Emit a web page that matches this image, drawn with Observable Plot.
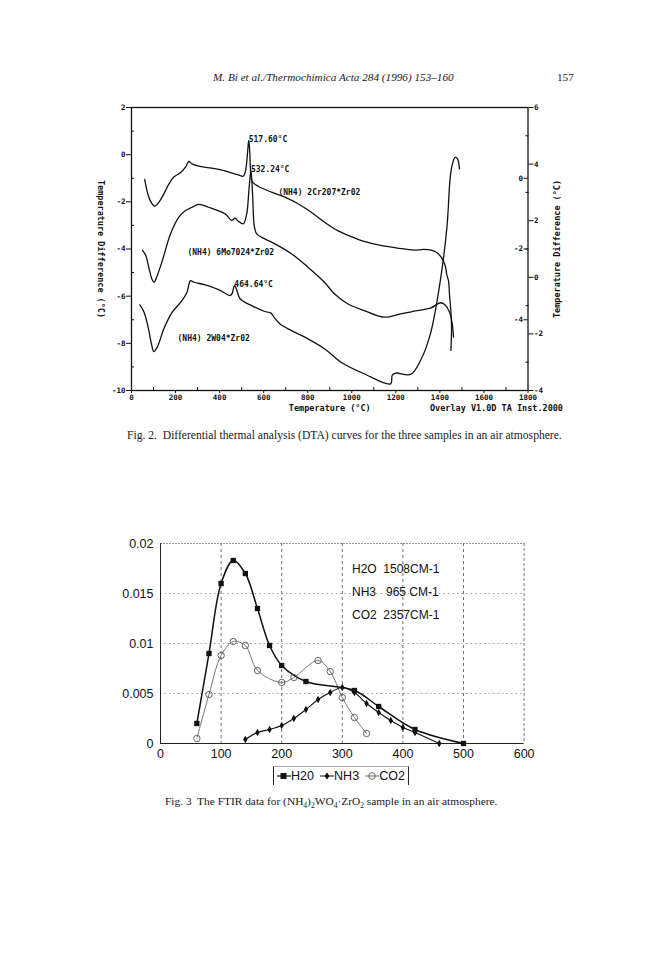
<!DOCTYPE html>
<html><head><meta charset="utf-8">
<script src="https://cdn.jsdelivr.net/npm/d3@7"></script>
<script src="https://cdn.jsdelivr.net/npm/@observablehq/plot@0.6"></script>
<style>
body{margin:0;background:#fff;}
#page{position:relative;width:672px;height:960px;background:#fff;overflow:hidden;}
.serif{position:absolute;font-family:"Liberation Serif","DejaVu Serif",serif;color:#1a1a1a;white-space:nowrap;}
svg{overflow:visible;}
#legend{position:absolute;display:flex;align-items:center;justify-content:space-around;font-family:"Liberation Sans",Arial,sans-serif;font-size:12.5px;color:#111;border-left:1px solid #222;border-right:1px solid #222;border-top:1px solid #aaa;box-sizing:border-box;}
#legend span{display:flex;align-items:center;}
</style></head><body><div id="page">
<div class="serif" style="left:213px;top:71px;font-size:11.2px;font-style:italic;">M. Bi et al./Thermochimica Acta 284 (1996) 153–160</div>
<div class="serif" style="left:557px;top:71px;font-size:11.2px;">157</div>
<div class="serif" style="left:127px;top:429px;font-size:11.6px;">Fig. 2.&nbsp; Differential thermal analysis (DTA) curves for the three samples in an air atmosphere.</div>
<div class="serif" style="left:165px;top:795px;font-size:11.4px;">Fig. 3&nbsp; The FTIR data for (NH<sub style="font-size:7.5px">4</sub>)<sub style="font-size:7.5px">2</sub>WO<sub style="font-size:7.5px">4</sub>·ZrO<sub style="font-size:7.5px">2</sub> sample in an air atmosphere.</div>
<div id="legend"></div>
</div>
<script>
// ---------- Fig. 2 DTA data (temperature °C, left-axis units) ----------
const crT = [60,72,87,105,125,147,170,192,222,245,260,275,305,365,425,485,508,518,527,532,536,541,548,575,636,696,756,816,876,936,996,1056,1131,1206,1282,1327,1364,1387,1409,1424,1432,1439,1444,1450,1453,1450];
const crV = [-1.05,-1.59,-1.99,-2.18,-2.01,-1.66,-1.24,-0.95,-0.77,-0.53,-0.29,-0.39,-0.49,-0.57,-0.69,-0.86,-0.91,-0.67,0.11,0.60,0.25,-0.74,-1.14,-1.34,-1.59,-1.80,-2.08,-2.44,-2.86,-3.22,-3.47,-3.68,-3.85,-3.96,-4.05,-4.02,-4.06,-4.16,-4.39,-4.70,-5.12,-5.34,-5.97,-6.68,-7.39,-8.30];
const moT = [50,65,80,92,102,117,140,177,215,245,275,305,350,425,455,470,485,508,523,533,542,550,557,568,605,651,726,801,876,921,981,1056,1146,1222,1297,1357,1402,1424,1444,1456,1462];
const moV = [-4.06,-4.28,-4.84,-5.26,-5.41,-5.12,-4.49,-3.36,-2.65,-2.37,-2.23,-2.11,-2.23,-2.51,-2.79,-2.69,-2.82,-2.93,-2.51,-1.52,-0.67,-1.73,-3.00,-3.36,-3.57,-3.78,-4.20,-4.77,-5.41,-5.90,-6.32,-6.61,-6.89,-6.75,-6.61,-6.51,-6.28,-6.37,-6.68,-7.17,-7.74];
const wT = [38,57,77,92,101,117,147,185,230,252,268,283,335,395,448,458,467,475,493,545,605,632,650,673,726,801,876,951,1056,1176,1184,1199,1267,1312,1357,1402,1432,1447,1457,1469,1480,1489];
const wV = [-6.37,-6.68,-7.38,-8.09,-8.35,-8.16,-7.38,-6.68,-6.18,-5.83,-5.34,-5.41,-5.52,-5.72,-5.97,-5.86,-5.55,-5.66,-6.11,-6.40,-6.65,-6.71,-6.93,-7.17,-7.46,-7.81,-8.23,-8.80,-9.29,-9.72,-9.34,-9.26,-9.32,-8.73,-7.60,-5.34,-3.07,-0.95,-0.39,-0.11,-0.18,-0.60];
const curveNames = ["(NH4) 2Cr207*Zr02","(NH4) 6Mo7024*Zr02","(NH4) 2W04*Zr02"];
const curveLabelT = [667,254,209];
const curveLabelV = [-1.60,-4.15,-7.80];
const peakLabels = ["517.60°C","532.24°C","464.64°C"];
const xTicks2 = [0,200,400,600,800,1000,1200,1400,1600,1800];
const xMinor2 = [100,300,500,700,900,1100,1300,1500,1700];
const leftTicks = [-10,-8,-6,-4,-2,0,2];
const leftMinor = [-9,-7,-5,-3,-1,1];
const rightOuterTicks = [-4,-2,0,2,4,6];
const rightOuterMinor = [-3,-1,1,3,5];
const rightInnerTicks = [-4,-2,0];

// ---------- Fig. 3 FTIR data ----------
const h2oT = [60,80,100,120,140,160,180,200,240,320,360,420,500];
const h2oV = [0.0020,0.0090,0.0160,0.0183,0.0170,0.0135,0.0098,0.0078,0.0062,0.0053,0.0037,0.0014,0];
const nh3T = [140,160,180,200,220,240,260,280,300,320,340,360,380,400,420,460];
const nh3V = [0.0004,0.0011,0.0014,0.0018,0.0025,0.0034,0.0044,0.0051,0.0056,0.0051,0.0040,0.0031,0.0023,0.0016,0.0011,0];
const co2T = [60,80,100,120,140,160,200,220,260,280,300,320,340];
const co2V = [0.0005,0.0049,0.0088,0.0102,0.0098,0.0073,0.0061,0.0066,0.0083,0.0072,0.0046,0.0026,0.0010];
const xTicks3 = [0,100,200,300,400,500,600];
const yTicks3 = [0,0.005,0.01,0.015,0.02];
const noteLines = ["H2O\u00a0\u00a01508CM-1","NH3\u00a0\u00a0\u00a0965 CM-1","CO2\u00a0\u00a02357CM-1"];
const noteT = [316,316,316];
const noteV = [0.0174,0.0151,0.0128];
const legendNames = ["H20","NH3","CO2"];

const page = document.getElementById("page");
function place(el, left, top){ el.style.position="absolute"; el.style.left=left+"px"; el.style.top=top+"px"; page.appendChild(el); }

const mono = "'DejaVu Sans Mono','Liberation Mono',monospace";
const series2 = [{T:crT,V:crV},{T:moT,V:moV},{T:wT,V:wV}];
const dta = series2.flatMap((s,k)=>s.T.map((t,i)=>({k, t, v:s.V[i]})));
const peaks = series2.map((s,k)=>{
  let best=-1; s.T.forEach((t,i)=>{ if(t>=400&&t<=600&&(best<0||s.V[i]>s.V[best])) best=i; });
  return {t:s.T[best], v:s.V[best], text:peakLabels[k]};
});
const curveLabels = curveNames.map((n,i)=>({t:curveLabelT[i], v:curveLabelV[i], text:n}));

const g2 = {width:672, height:320, marginLeft:131, marginRight:144.5, marginTop:12, marginBottom:25};
const st2 = {fontFamily:mono, fontSize:"7.5px", fontWeight:"bold", color:"#111", background:"transparent", overflow:"visible"};

const fig2 = Plot.plot({
  ...g2, style:st2,
  x:{domain:[0,1800]}, y:{domain:[-10,2]},
  marks:[
    Plot.frame({stroke:"#111", strokeWidth:1.3}),
    Plot.axisX({ticks:xTicks2, tickSize:3, tickPadding:1, tickFormat:d=>String(d), label:null}),
    Plot.axisX({ticks:xMinor2, tickSize:3, dy:-3, fill:"none", label:null}),
    Plot.axisY({ticks:leftTicks, tickSize:5, tickPadding:1, tickFormat:d=>String(d), label:null}),
    Plot.axisY({ticks:leftMinor, tickSize:3, dx:3, fill:"none", label:null}),
    Plot.line(dta, {x:"t", y:"v", z:"k", stroke:"#111", strokeWidth:1.3, curve:"catmull-rom"}),
    Plot.text(curveLabels, {x:"t", y:"v", text:"text", textAnchor:"start", fontSize:8}),
    Plot.text(peaks, {x:"t", y:"v", text:"text", textAnchor:"start", dx:0, dy:-1, fontSize:8}),
    Plot.text(["Temperature (°C)"], {text:d=>d, frameAnchor:"bottom", textAnchor:"middle", lineAnchor:"middle", dy:18, fontSize:8.5}),
    Plot.text(["Overlay V1.0D TA Inst.2000"], {text:d=>d, frameAnchor:"bottom-right", textAnchor:"end", lineAnchor:"middle", dy:18, dx:35, fontSize:8.5}),
    Plot.text(["Temperature Difference (°C)"], {text:d=>d, frameAnchor:"left", textAnchor:"middle", lineAnchor:"middle", rotate:90, dx:-31, fontSize:8.5})
  ]
});
place(fig2, 0, 95);

const fig2R = Plot.plot({
  ...g2, style:st2,
  y:{domain:[-4,6]},
  marks:[
    Plot.axisY({anchor:"right", ticks:rightOuterTicks, tickSize:5, tickPadding:1, tickFormat:d=>String(d), label:null}),
    Plot.axisY({anchor:"right", ticks:rightOuterMinor, tickSize:3, dx:-3, fill:"none", label:null}),
    Plot.text(["Temperature Difference (°C)"], {text:d=>d, frameAnchor:"right", textAnchor:"middle", lineAnchor:"middle", rotate:-90, dx:29, fontSize:8.5})
  ]
});
place(fig2R, 0, 95);

const fig2L = Plot.plot({
  width:672, height:320, marginLeft:527.5, marginRight:10, marginTop:12, marginBottom:25, style:st2,
  y:{domain:[-6,2]},
  marks:[
    Plot.axisY({anchor:"left", ticks:rightInnerTicks, tickSize:4, tickPadding:1, tickFormat:d=>String(d), label:null})
  ]
});
place(fig2L, 0, 95);

// ---------- Fig. 3 ----------
const ftir = [
  ...h2oT.map((t,i)=>({s:"H2O", t, v:h2oV[i]})),
  ...nh3T.map((t,i)=>({s:"NH3", t, v:nh3V[i]})),
  ...co2T.map((t,i)=>({s:"CO2", t, v:co2V[i]}))
];
const notes = noteLines.map((n,i)=>({t:noteT[i], v:noteV[i], text:n}));
const sans = "'Liberation Sans',Arial,sans-serif";
const fig3 = Plot.plot({
  width:672, height:250, marginLeft:160, marginRight:148.4, marginTop:23, marginBottom:27,
  style:{fontFamily:sans, fontSize:"12.5px", color:"#111", background:"transparent", overflow:"visible"},
  x:{domain:[0,600]}, y:{domain:[0,0.02]},
  marks:[
    Plot.ruleY(yTicks3.slice(1,-1), {stroke:"#888", strokeDasharray:"1.5,3", strokeWidth:0.8}),
    Plot.ruleX(xTicks3.slice(1,-1), {stroke:"#333", strokeDasharray:"3,3", strokeWidth:0.7}),
    Plot.ruleY(yTicks3.slice(-1), {stroke:"#777", strokeDasharray:"2,1", strokeWidth:0.8}),
    Plot.ruleX(xTicks3.slice(-1), {stroke:"#555", strokeDasharray:"3,2", strokeWidth:0.8}),
    Plot.ruleX(xTicks3.slice(0,1), {stroke:"#222", strokeWidth:1}),
    Plot.ruleY(yTicks3.slice(0,1), {stroke:"#222", strokeWidth:1}),
    Plot.axisX({ticks:xTicks3, tickSize:0, tickPadding:6, tickFormat:d=>String(d), label:null}),
    Plot.axisY({ticks:yTicks3, tickSize:0, tickPadding:7, tickFormat:d=>String(d), label:null}),
    Plot.line(ftir.filter(d=>d.s==="CO2"), {x:"t", y:"v", stroke:"#666", strokeWidth:0.9, curve:"catmull-rom"}),
    Plot.line(ftir.filter(d=>d.s==="NH3"), {x:"t", y:"v", stroke:"#111", strokeWidth:1.1, curve:"catmull-rom"}),
    Plot.line(ftir.filter(d=>d.s==="H2O"), {x:"t", y:"v", stroke:"#111", strokeWidth:1.5, curve:"catmull-rom"}),
    Plot.dot(ftir.filter(d=>d.s==="CO2"), {x:"t", y:"v", r:3.2, stroke:"#555", strokeWidth:0.9, fill:"none"}),
    Plot.dot(ftir.filter(d=>d.s==="NH3"), {x:"t", y:"v", r:2.3, symbol:"diamond", fill:"#111", stroke:"none"}),
    Plot.dot(ftir.filter(d=>d.s==="H2O"), {x:"t", y:"v", r:3.0, symbol:"square", fill:"#111", stroke:"none"}),
    Plot.text(notes, {x:"t", y:"v", text:"text", textAnchor:"start", fontSize:12})
  ]
});
place(fig3, 0, 520);

// legend
const legend = document.getElementById("legend");
legend.style.left="273px"; legend.style.top="766px"; legend.style.width="136px"; legend.style.height="19px";
const sw = [
  '<svg width="14" height="10"><line x1="0" y1="5" x2="14" y2="5" stroke="#111" stroke-width="1.2"/><rect x="3.5" y="2" width="6" height="6" fill="#111"/></svg>',
  '<svg width="14" height="10"><line x1="0" y1="5" x2="14" y2="5" stroke="#111" stroke-width="1"/><path d="M7,1.5L9.5,5L7,8.5L4.5,5Z" fill="#111"/></svg>',
  '<svg width="14" height="10"><line x1="0" y1="5" x2="14" y2="5" stroke="#555" stroke-width="0.9"/><circle cx="7" cy="5" r="3.3" fill="none" stroke="#555" stroke-width="0.9"/></svg>'
];
legend.innerHTML = legendNames.map((n,i)=>`<span>${sw[i]}${n}</span>`).join("");
</script>
</body></html>
